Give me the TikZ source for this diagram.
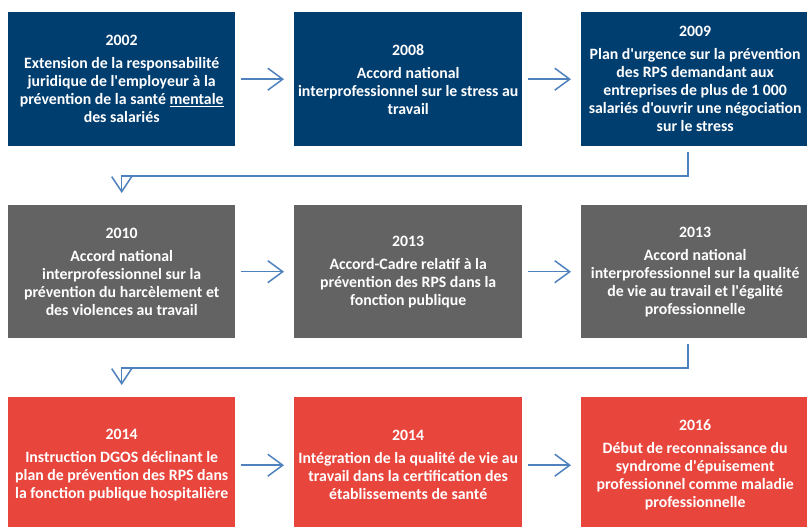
\documentclass[tikz,border=0pt]{standalone}
\usepackage{fontspec}
\setmainfont{Carlito}[Ligatures=TeXOff]
\usetikzlibrary{arrows.meta}
\definecolor{rowblue}{RGB}{0,62,112}
\definecolor{rowgray}{RGB}{99,99,99}
\definecolor{rowred}{RGB}{232,69,61}
\definecolor{arrowblue}{RGB}{79,129,189}
\begin{document}
\begin{tikzpicture}[x=1pt,y=-1pt,
  box/.style={minimum width=227pt, inner sep=0pt, text=white, anchor=north west,
    font=\bfseries\fontsize{15.8}{18}\selectfont, align=center},
  bluebox/.style={box, fill=rowblue, minimum height=134pt},
  graybox/.style={box, fill=rowgray, minimum height=133pt},
  redbox/.style={box, fill=rowred, minimum height=136pt},
  arr/.style={draw=arrowblue, line width=1.5pt, -{Straight Barb[length=15pt,width=22pt,line width=1.5pt]}, shorten <=6pt, shorten >=10pt},
  conn/.style={draw=arrowblue, line width=1.5pt, -{Straight Barb[length=15pt,width=20pt,line width=1.5pt]}, shorten <=6pt, shorten >=12pt}
]
\useasboundingbox (0,0) rectangle (807,527);
% Row 1
\node[bluebox] (a1) at (8,12) {2002\\[5pt]Extension de la responsabilité\\juridique de l'employeur à la\\prévention de la santé \underline{mentale}\\des salariés};
\node[bluebox, minimum width=228pt] (a2) at (294,12) {2008\\[5pt]Accord national\\interprofessionnel sur le stress au\\travail};
\node[bluebox, minimum width=228pt] (a3) at (581,12) {2009\\[5pt]Plan d'urgence sur la prévention\\des RPS demandant aux\\entreprises de plus de 1 000\\salariés d'ouvrir une négociation\\sur le stress};
% Row 2
\node[graybox] (b1) at (8,205) {2010\\[5pt]Accord national\\interprofessionnel sur la\\prévention du harcèlement et\\des violences au travail};
\node[graybox, minimum width=228pt] (b2) at (294,205) {2013\\[5pt]Accord-Cadre relatif à la\\prévention des RPS dans la\\fonction publique};
\node[graybox, minimum width=228pt] (b3) at (581,205) {2013\\[5pt]Accord national\\interprofessionnel sur la qualité\\de vie au travail et l'égalité\\professionnelle};
% Row 3
\node[redbox] (c1) at (8,397) {2014\\[5pt]Instruction DGOS déclinant le\\plan de prévention des RPS dans\\la fonction publique hospitalière};
\node[redbox, minimum width=228pt] (c2) at (294,397) {2014\\[5pt]Intégration de la qualité de vie au\\travail dans la certification des\\établissements de santé};
\node[redbox, minimum width=228pt] (c3) at (581,397) {2016\\[5pt]Début de reconnaissance du\\syndrome d'épuisement\\professionnel comme maladie\\professionnelle};
% Horizontal arrows
\draw[arr] (a1.east) -- (a2.west);
\draw[arr] (a2.east) -- (a3.west);
\draw[arr] (b1.east) -- (b2.west);
\draw[arr] (b2.east) -- (b3.west);
\draw[arr] (c1.east) -- (c2.west);
\draw[arr] (c2.east) -- (c3.west);
% Row connectors
\coordinate (k1) at (688,176);
\coordinate (k2) at (688,368);
\draw[conn] (a3.south -| k1) -- (k1) -- (k1 -| b1.north) -- (b1.north);
\draw[conn] (b3.south -| k2) -- (k2) -- (k2 -| c1.north) -- (c1.north);
\end{tikzpicture}
\end{document}
